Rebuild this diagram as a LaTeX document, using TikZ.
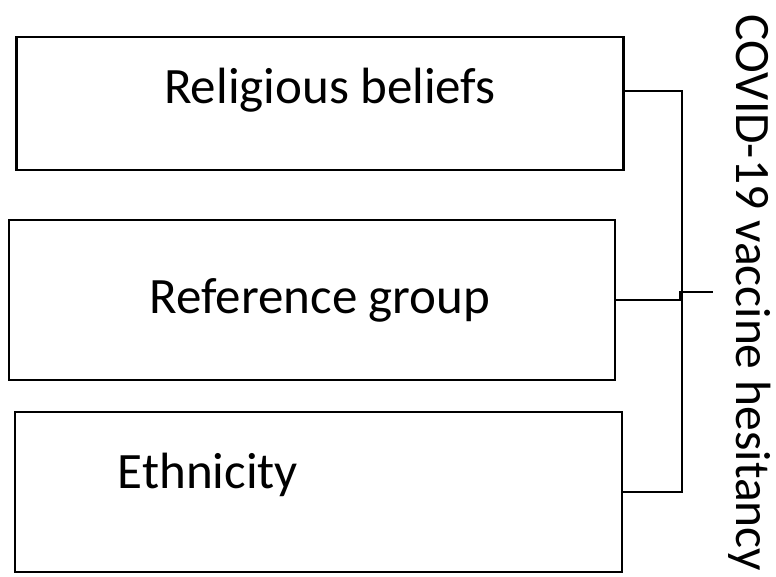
\documentclass[tikz,border=0pt]{standalone}
\usepackage{fontspec}
\setmainfont{Carlito}
\usepackage{tikz}

\begin{document}
\begin{tikzpicture}[x=1pt,y=-1pt]
        % Define styles
        \tikzset{
            factor/.style={rectangle, draw, line width=2.6pt, minimum width=607pt, minimum height=160pt, inner sep=0pt},
            label/.style={font=\fontsize{51}{58}\selectfont, inner sep=0pt},
            link/.style={line width=2pt}
        }
        \useasboundingbox (0,0) rectangle (776,576);

        % Nodes
        \node[factor, minimum height=133pt] (beliefs_box) at (320,103.5) {};
        \node[label] (beliefs_text) at (330,90) {Religious beliefs};
        \node[factor, minimum width=606pt] (group_box) at (312,300) {};
        \node[label] (group_text) at (320,300) {Reference group};
        \node[label] (ethnicity_text) at (208,475) {Ethnicity};
        \node[factor] (ethnicity_box) at (318.5,492) {};
        \node[label, font=\fontsize{49.5}{56}\selectfont, rotate=-90] (hesitancy) at (750,293) {COVID-19 vaccine hesitancy};
        \coordinate (outcome) at (713,292);

        % Lines
        \draw[link] (beliefs_box.east |- 0,91) -- (682,91) -- (682,492) -- (ethnicity_box.east);
        \draw[link] (group_box.east) -- (680,300) -- (680,292) -- (outcome);
\end{tikzpicture}
\end{document}
